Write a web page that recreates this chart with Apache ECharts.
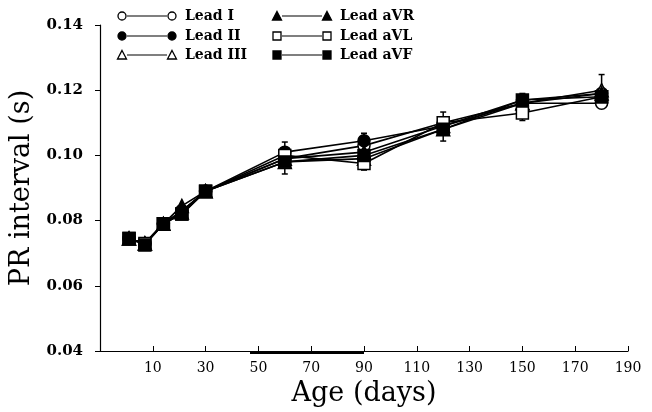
<!DOCTYPE html>
<html>
<head>
<meta charset="utf-8">
<script src="https://cdn.jsdelivr.net/npm/echarts@6/dist/echarts.min.js"></script>
<style>
  html, body { margin: 0; padding: 0; background: #fff; }
  #chart { width: 652px; height: 412px; }
</style>
</head>
<body>
<div id="chart"></div>
<script>
// ── Data ────────────────────────────────────────────────────
const ages     = [1, 7, 14, 21, 30, 60, 90, 120, 150, 180]
const leadI    = [0.0745, 0.0730, 0.0790, 0.0830, 0.0890, 0.0990, 0.1030, 0.1100, 0.1160, 0.1160]
const leadII   = [0.0745, 0.0730, 0.0790, 0.0830, 0.0890, 0.1010, 0.1045, 0.1090, 0.1170, 0.1190]
const leadIII  = [0.0745, 0.0730, 0.0790, 0.0825, 0.0890, 0.0980, 0.0990, 0.1080, 0.1160, 0.1200]
const leadAVR  = [0.0745, 0.0730, 0.0790, 0.0845, 0.0890, 0.0990, 0.1010, 0.1090, 0.1160, 0.1190]
const leadAVL  = [0.0745, 0.0730, 0.0790, 0.0820, 0.0890, 0.1000, 0.0975, 0.1100, 0.1130, 0.1180]
const leadAVF  = [0.0745, 0.0725, 0.0790, 0.0820, 0.0890, 0.0980, 0.1000, 0.1080, 0.1170, 0.1180]

// error bars (overall spread at each later age)
const errAges  = [60, 90, 120, 150, 180]
const errLow   = [0.0943, 0.0955, 0.1044, 0.1107, 0.1147]
const errHigh  = [0.1041, 0.1068, 0.1133, 0.1190, 0.1248]

const leads = [
    { name: 'Lead I',   data: leadI,   symbol: 'circle',   filled: false },
    { name: 'Lead II',  data: leadII,  symbol: 'circle',   filled: true },
    { name: 'Lead III', data: leadIII, symbol: 'triangle', filled: false },
    { name: 'Lead aVR', data: leadAVR, symbol: 'triangle', filled: true },
    { name: 'Lead aVL', data: leadAVL, symbol: 'rect',     filled: false },
    { name: 'Lead aVF', data: leadAVF, symbol: 'rect',     filled: true },
]

const SERIF = '"DejaVu Serif", "Liberation Serif", serif'

// ── Legend drawn as graphic (marker — line — marker + label) ─
function legendMark(kind, filled, cx, cy) {
    const style = { fill: filled ? '#000' : '#fff', stroke: '#000', lineWidth: 1.3 }
    if (kind === 'circle') return { type: 'circle', shape: { cx, cy, r: 4 }, style }
    if (kind === 'triangle') {
        return { type: 'polygon', shape: { points: [[cx, cy - 4.5], [cx + 4.5, cy + 4], [cx - 4.5, cy + 4]] }, style }
    }
    return { type: 'rect', shape: { x: cx - 4, y: cy - 4, width: 8, height: 8 }, style }
}

const legendCols = [122, 277]
const legendRows = [16, 36, 55]
const legendGraphic = leads.map((l, i) => {
    const x1 = legendCols[Math.floor(i / 3)]
    const x2 = x1 + 50
    const y = legendRows[i % 3]
    return {
        type: 'group',
        children: [
            { type: 'line', shape: { x1: x1 + 5, y1: y, x2: x2 - 5, y2: y }, style: { stroke: '#000', lineWidth: 1.2 } },
            legendMark(l.symbol, l.filled, x1, y),
            legendMark(l.symbol, l.filled, x2, y),
            {
                type: 'text', x: x2 + 13, y: y,
                style: { text: l.name, fill: '#000', font: 'bold 14px ' + SERIF, verticalAlign: 'middle' },
            },
        ],
    }
})

// ── Chart ───────────────────────────────────────────────────
const chart = echarts.init(document.getElementById('chart'), null, { renderer: 'canvas' })

const lineSeries = leads.map(l => ({
    name: l.name,
    type: 'line',
    data: ages.map((a, i) => [a, l.data[i]]),
    symbol: l.symbol,
    symbolSize: l.symbol === 'triangle' ? 13 : 12,
    lineStyle: { color: '#000', width: 1.6 },
    itemStyle: { color: l.filled ? '#000' : '#fff', borderColor: '#000', borderWidth: 1.5 },
    z: 3,
    animation: false,
}))

const errorSeries = {
    type: 'custom',
    data: errAges.map((a, i) => [a, errLow[i], errHigh[i]]),
    renderItem: (params, api) => {
        const lo = api.coord([api.value(0), api.value(1)])
        const hi = api.coord([api.value(0), api.value(2)])
        const st = { stroke: '#000', lineWidth: 1.5 }
        return {
            type: 'group',
            children: [
                { type: 'line', shape: { x1: lo[0], y1: lo[1], x2: hi[0], y2: hi[1] }, style: st },
                { type: 'line', shape: { x1: lo[0] - 3, y1: lo[1], x2: lo[0] + 3, y2: lo[1] }, style: st },
                { type: 'line', shape: { x1: hi[0] - 3, y1: hi[1], x2: hi[0] + 3, y2: hi[1] }, style: st },
            ],
        }
    },
    z: 2,
    animation: false,
}

chart.setOption({
    backgroundColor: '#fff',
    animation: false,
    grid: { left: 100, right: 24, top: 25, bottom: 59 },
    xAxis: {
        type: 'value',
        min: -10, max: 190, interval: 20,
        name: 'Age (days)',
        nameLocation: 'middle',
        nameGap: 29,
        nameTextStyle: { fontFamily: SERIF, fontSize: 27, color: '#000' },
        axisLine: { onZero: false, lineStyle: { color: '#000', width: 1.2 } },
        axisTick: { inside: true, length: 5, lineStyle: { color: '#000' } },
        axisLabel: {
            margin: 10,
            fontFamily: SERIF, fontSize: 14, color: '#000',
            formatter: v => (v < 0 ? '' : String(v)),
        },
        splitLine: { show: false },
    },
    yAxis: {
        type: 'value',
        min: 0.04, max: 0.14, interval: 0.02,
        name: 'PR interval (s)',
        nameLocation: 'middle',
        nameGap: 60,
        nameTextStyle: { fontFamily: SERIF, fontSize: 27, color: '#000' },
        axisLine: { show: true, onZero: false, lineStyle: { color: '#000', width: 1.2 } },
        axisTick: { show: true, length: 5, lineStyle: { color: '#000' } },
        axisLabel: {
            margin: 17,
            fontFamily: SERIF, fontSize: 15, fontWeight: 'bold', color: '#000',
            formatter: v => v.toFixed(2),
        },
        splitLine: { show: false },
    },
    legend: { show: false },
    graphic: [
        ...legendGraphic,
        // thick stretch of the baseline seen in the scan
        { type: 'rect', shape: { x: 250, y: 351.5, width: 114, height: 2.5 }, style: { fill: '#000' }, z: 10 },
    ],
    series: [errorSeries, ...lineSeries],
})
</script>
</body>
</html>
